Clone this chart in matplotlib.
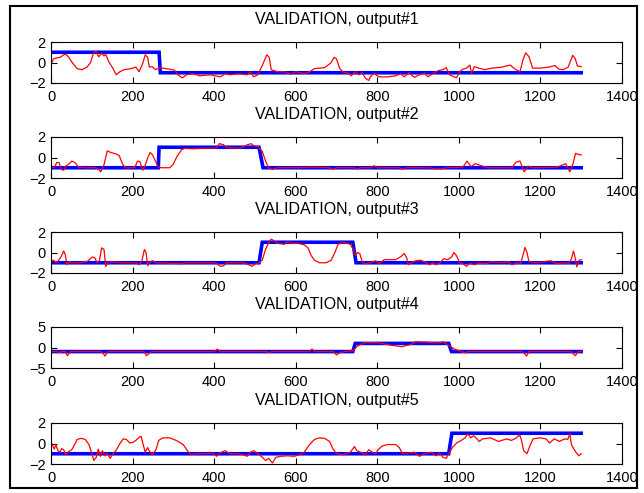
import matplotlib
matplotlib.use("Agg")
import matplotlib.pyplot as plt
from matplotlib.patches import Rectangle

plt.rcParams["font.family"] = ["Liberation Sans", "DejaVu Sans"]

titles = ["VALIDATION, output#1", "VALIDATION, output#2", "VALIDATION, output#3",
          "VALIDATION, output#4", "VALIDATION, output#5"]
x_ticks = [0, 200, 400, 600, 800, 1000, 1200, 1400]
y_ticks = [[-2, 0, 2], [-2, 0, 2], [-2, 0, 2], [-5, 0, 5], [-2, 0, 2]]

# target (blue step) per output
target1_x = [0, 265, 268, 1300]
target1_y = [1, 1, -1, -1]
target2_x = [0, 263, 265, 510, 520, 1300]
target2_y = [-1, -1, 1, 1, -1, -1]
target3_x = [0, 510, 518, 740, 748, 1300]
target3_y = [-1, -1, 1, 1, -1, -1]
target4_x = [0, 740, 746, 975, 982, 1300]
target4_y = [-1, -1, 1, 1, -1, -1]
target5_x = [0, 975, 983, 1300]
target5_y = [-1, -1, 1, 1]

# network output (red) per output
out1_x = [0, 6, 14, 22, 31, 36, 43, 51, 64, 76, 88, 97, 105, 111, 117, 124, 130, 134,
          142, 150, 160, 169, 179, 196, 208, 216, 225, 231, 237, 241, 248, 256, 266, 283,
          303, 311, 322, 332, 349, 365, 390, 415, 427, 439, 460, 481, 489, 497, 507, 518,
          529, 535, 540, 555, 572, 588, 600, 621, 634, 646, 671, 686, 694, 700, 708, 717,
          730, 736, 746, 755, 763, 771, 779, 783, 792, 804, 825, 845, 858, 866, 878, 891,
          903, 916, 924, 936, 949, 961, 969, 977, 986, 994, 1002, 1010, 1019, 1027, 1031,
          1038, 1048, 1064, 1081, 1105, 1126, 1138, 1150, 1157, 1164, 1172, 1181, 1200,
          1220, 1236, 1245, 1256, 1268, 1279, 1285, 1291, 1300]
out1_y = [-0.2, 0.35, 0.45, 0.5, 0.75, 0.8, 0.55, 0.05, -0.6, -0.7, -0.45, 0.0, 1.0, 1.05,
          0.55, 0.9, 0.65, 0.8, 0.05, -0.45, -1.2, -0.9, -0.7, -0.6, -0.45, -0.9, -0.1, 0.75,
          0.5, -0.45, -0.4, -0.7, -0.5, -0.6, -0.75, -1.2, -1.5, -1.2, -1.1, -1.3, -1.2, -1.4,
          -1.1, -1.2, -1.1, -1.2, -0.9, -1.4, -1.2, -0.3, 0.75, 0.5, -0.7, -0.9, -0.9, -1.15,
          -0.9, -1.1, -0.9, -0.6, -0.5, -0.05, 0.5, 0.35, -0.6, -0.95, -1.05, -1.3, -0.9,
          -1.2, -1.0, -1.55, -1.75, -1.4, -1.05, -1.4, -1.4, -1.3, -1.1, -1.4, -1.0, -1.45,
          -1.2, -1.05, -1.4, -1.1, -0.8, -0.7, -0.5, -1.2, -1.35, -1.5, -0.9, -0.65, -0.55,
          -0.25, -1.05, -0.4, -0.55, -0.7, -0.55, -0.45, -0.25, -0.65, -0.9, 0.25, 0.95,
          0.55, -0.55, -0.55, -0.45, -0.3, -0.65, -0.7, -0.45, 0.7, 0.4, -0.35, -0.4]

out2_x = [0, 8, 14, 20, 25, 31, 36, 45, 51, 59, 68, 84, 109, 117, 122, 130, 138, 146, 159,
          167, 175, 182, 196, 206, 212, 218, 225, 231, 237, 243, 249, 256, 262, 270, 291,
          299, 309, 320, 328, 349, 373, 394, 406, 413, 423, 431, 448, 460, 472, 482, 491,
          497, 507, 518, 526, 534, 543, 555, 600, 640, 685, 690, 700, 745, 750, 758, 785,
          792, 800, 855, 860, 870, 930, 940, 960, 970, 1010, 1020, 1030, 1040, 1055, 1070,
          1130, 1140, 1150, 1160, 1170, 1180, 1240, 1250, 1262, 1272, 1280, 1286, 1293, 1300]
out2_y = [-0.95, -1.0, -0.5, -0.5, -1.15, -1.25, -0.85, -0.6, -0.35, -0.5, -0.95, -1.0,
          -1.0, -1.15, -1.4, -0.7, 0.65, 0.5, 0.35, 0.2, -0.6, -1.0, -1.0, -0.95, -0.35,
          -0.4, -1.25, -0.75, -0.05, 0.5, 0.25, -0.35, -0.85, -1.0, -1.0, -0.7, 0.1, 0.75,
          0.9, 0.85, 0.9, 0.9, 0.95, 1.35, 1.25, 0.95, 0.95, 0.9, 1.05, 1.25, 1.35, 1.15,
          1.05, 0.6, -0.35, -1.05, -1.15, -1.0, -1.0, -0.95, -1.0, -1.15, -1.0, -1.0, -1.15,
          -1.0, -1.0, -0.8, -1.0, -1.0, -1.15, -1.0, -1.0, -1.1, -1.1, -1.0, -0.95, -0.35,
          -0.9, -0.6, -0.8, -1.0, -1.0, -0.45, -0.35, -1.4, -0.85, -1.0, -0.95, -0.8, -0.6,
          -1.4, -0.6, 0.4, 0.3, 0.25]

out3_x = [0, 6, 12, 18, 25, 31, 35, 39, 45, 51, 68, 88, 101, 107, 113, 119, 124, 130, 134,
          140, 150, 175, 208, 216, 223, 229, 233, 237, 243, 249, 258, 299, 316, 332, 398,
          406, 415, 423, 431, 472, 485, 493, 501, 510, 518, 526, 535, 540, 547, 555, 572,
          580, 588, 605, 621, 630, 638, 646, 658, 675, 687, 696, 704, 716, 726, 734, 741,
          746, 752, 757, 763, 771, 783, 796, 804, 817, 845, 858, 866, 872, 876, 884, 895,
          907, 920, 928, 936, 944, 953, 963, 973, 982, 988, 994, 1002, 1010, 1019, 1027,
          1039, 1048, 1064, 1081, 1105, 1122, 1130, 1142, 1152, 1158, 1162, 1167, 1172,
          1193, 1225, 1242, 1258, 1270, 1276, 1281, 1284, 1289, 1295, 1300]
out3_y = [-0.9, -0.75, -1.0, -0.8, -0.4, 0.15, -0.2, -1.2, -0.9, -1.0, -1.0, -0.9, -0.45,
          -0.5, -1.0, -0.75, 0.45, 0.3, -1.35, -1.0, -0.9, -1.0, -1.0, -1.2, -0.8, 0.3, 0.0,
          -1.3, -0.9, -0.8, -1.0, -1.05, -1.1, -1.0, -1.0, -1.05, -1.35, -1.3, -1.0, -1.0,
          -1.2, -1.35, -1.1, -1.0, -0.75, 0.3, 1.05, 1.3, 1.15, 0.9, 0.8, 1.05, 0.9, 0.9,
          0.75, 0.45, -0.3, -0.75, -1.0, -1.0, -0.75, 0.0, 0.8, 1.0, 0.9, 0.8, 0.3, -0.3,
          0.0, -0.1, -0.9, -1.1, -1.0, -0.8, -1.1, -0.7, -0.7, -0.4, -0.1, -0.5, -1.2, -1.0,
          -0.8, -0.75, -1.0, -1.2, -1.0, -1.2, -1.05, -0.6, -0.7, -0.45, 0.0, -0.3, -1.0,
          -1.1, -1.35, -1.05, -1.2, -1.0, -1.1, -0.9, -1.0, -0.9, -1.2, -1.0, -1.05, -0.15,
          0.5, 0.0, -0.9, -1.0, -0.8, -1.1, -1.0, -1.05, -0.6, 0.15, -0.3, -1.4, -0.75, -0.7]

out4_x = [0, 15, 20, 25, 35, 40, 48, 120, 128, 132, 140, 228, 234, 240, 246, 400, 408, 415,
          530, 535, 540, 632, 640, 648, 692, 700, 710, 720, 740, 752, 770, 800, 815, 830,
          845, 860, 872, 885, 893, 920, 935, 950, 962, 968, 976, 990, 1005, 1015, 1022,
          1030, 1155, 1162, 1166, 1172, 1275, 1281, 1286, 1292, 1300]
out4_y = [-1.0, -1.0, -1.3, -1.0, -1.0, -2.0, -1.0, -1.0, -1.4, -2.1, -1.0, -1.0, -2.0,
          -1.5, -1.0, -1.0, -0.4, -1.0, -1.0, -1.3, -1.0, -1.0, -0.4, -1.0, -1.0, -1.8,
          -1.2, -1.0, -0.8, 0.4, 1.2, 1.2, 0.9, 0.6, 0.4, 0.2, 0.5, 0.8, 1.4, 1.3, 1.2, 1.1,
          1.4, 1.0, 0.4, -0.4, -1.0, -1.3, -1.0, -1.0, -1.0, -1.6, -2.1, -1.0, -1.0, -1.6,
          -2.0, -1.0, -1.0]

out5_x = [0, 3, 8, 12, 17, 22, 26, 31, 36, 43, 51, 58, 64, 74, 84, 93, 99, 105, 111, 116,
          121, 126, 132, 138, 145, 150, 159, 169, 177, 185, 193, 200, 208, 216, 221, 226,
          231, 237, 243, 249, 258, 264, 274, 291, 307, 324, 332, 342, 353, 373, 398, 406,
          415, 427, 439, 456, 472, 481, 489, 497, 506, 518, 526, 534, 543, 551, 563, 580,
          596, 609, 621, 634, 646, 658, 671, 683, 691, 700, 717, 734, 744, 750, 759, 771,
          779, 788, 796, 802, 812, 825, 845, 854, 862, 874, 891, 903, 916, 932, 944, 953,
          961, 969, 977, 986, 996, 1006, 1015, 1022, 1029, 1036, 1042, 1050, 1058, 1078,
          1097, 1117, 1129, 1141, 1149, 1153, 1159, 1167, 1174, 1182, 1198, 1214, 1222,
          1234, 1247, 1259, 1267, 1272, 1276, 1282, 1287, 1294, 1300]
out5_y = [0.2, -0.1, -0.55, -0.1, -0.7, -0.85, -0.5, -0.6, -1.1, -0.8, -0.6, -0.1, 0.4,
          0.5, 0.4, -0.1, -0.85, -1.65, -1.35, -0.55, -1.25, -0.7, -1.2, -0.95, -1.45, -1.1,
          -0.7, 0.0, 0.45, 0.4, 0.05, 0.1, 0.3, 0.6, 0.7, -0.1, -0.85, -0.4, -0.85, -1.1,
          -0.55, 0.3, 0.55, 0.55, 0.3, -0.1, -0.55, -1.1, -1.0, -1.0, -0.95, -1.25, -0.9,
          -0.7, -1.0, -1.0, -1.1, -1.25, -0.85, -0.7, -0.95, -1.35, -1.65, -1.45, -1.9,
          -1.35, -1.25, -1.2, -1.25, -1.1, -0.85, -0.1, 0.4, 0.55, 0.5, 0.2, -0.5, -1.0,
          -1.1, -0.85, -0.3, -0.7, -0.85, -1.1, -0.6, -0.85, -1.0, -0.6, -0.25, -0.1, -0.1,
          -0.4, -1.0, -0.95, -0.85, -1.25, -1.0, -0.85, -1.2, -0.95, -1.35, -1.45, -0.85,
          -0.3, 0.1, 0.3, 0.55, 0.95, 0.55, 0.75, 0.55, 0.2, 0.45, 0.55, 0.2, 0.45, 0.3,
          0.55, 0.85, 0.4, -0.7, -1.0, -0.25, 0.45, 0.55, 0.45, 0.05, 0.45, 0.2, 0.45, 0.4,
          0.95, -0.1, -0.55, -0.85, -1.2, -1.0]

targets = [(target1_x, target1_y), (target2_x, target2_y), (target3_x, target3_y),
           (target4_x, target4_y), (target5_x, target5_y)]
outputs = [(out1_x, out1_y), (out2_x, out2_y), (out3_x, out3_y),
           (out4_x, out4_y), (out5_x, out5_y)]

W, H = 644, 493
fig = plt.figure(figsize=(W / 100, H / 100), dpi=100)

ax_left, ax_right, ax_h = 51, 622, 41
ax_tops = [42, 137, 232, 327, 423]

for i in range(5):
    top = ax_tops[i]
    ax = fig.add_axes([ax_left / W, 1 - (top + ax_h) / H, (ax_right - ax_left) / W, ax_h / H])
    tx, ty = targets[i]
    ox, oy = outputs[i]
    ax.plot(tx, ty, color="#0000ff", lw=2.6, solid_joinstyle="miter")
    ax.plot(ox, oy, color="#ff0000", lw=0.9)
    ax.set_xlim(0, 1400)
    lim = y_ticks[i]
    ax.set_ylim(lim[0], lim[-1])
    ax.set_xticks(x_ticks)
    ax.set_yticks(lim)
    ax.tick_params(direction="in", top=True, right=True, length=4, width=0.8,
                   labelsize=10.5, pad=5)
    ax.tick_params(axis="y", pad=4)
    for sp in ax.spines.values():
        sp.set_linewidth(0.8)
    ax.set_title(titles[i], fontsize=11.5, pad=13)

# frame round the whole figure
fig.patches.append(Rectangle((10 / W, 5 / H), 627 / W, 482 / H, transform=fig.transFigure,
                             fill=False, edgecolor="black", lw=1.5))

fig.savefig("out.png", dpi=100)
